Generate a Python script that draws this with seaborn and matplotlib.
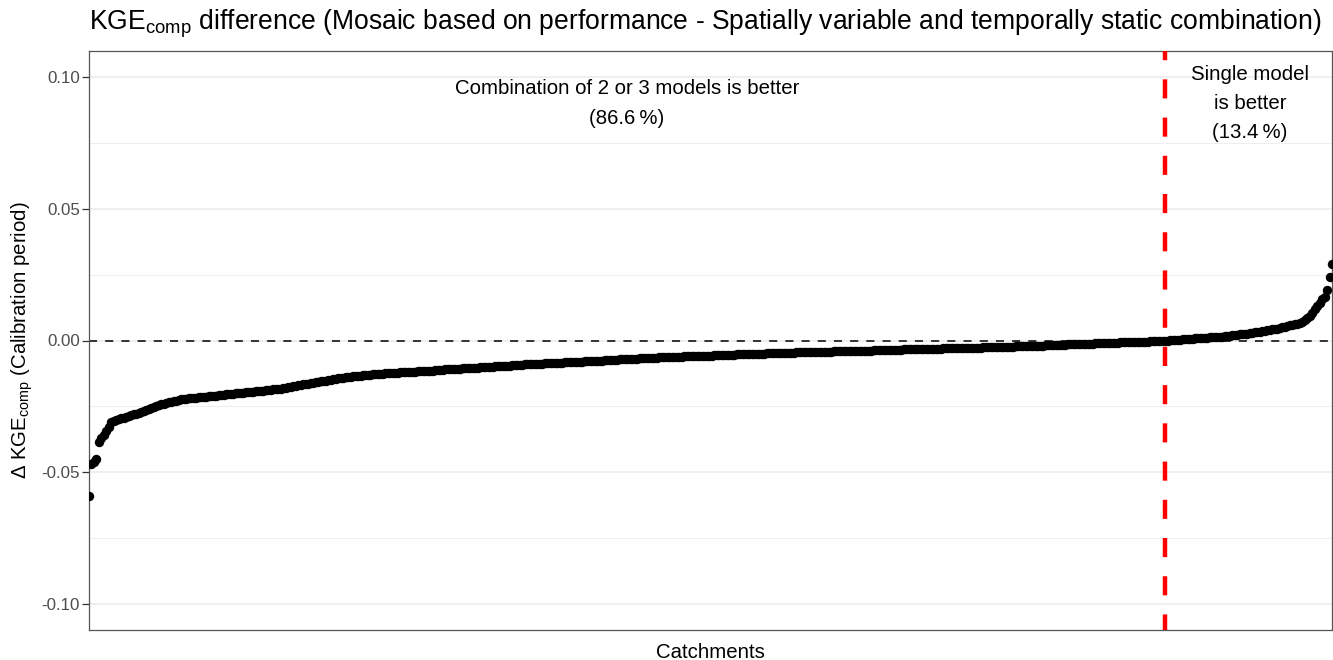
import numpy as np
import pandas as pd
import seaborn as sns
import matplotlib.pyplot as plt

# Delta KGE_comp per catchment, sorted, in units of 1e-4
delta_low = [
    -590, -470, -460, -450, -385, -370, -360, -345, -330, -310,
    -305, -302, -299, -296, -293, -290, -287, -284, -281, -278,
    -275, -271, -267, -263, -259, -255, -252, -249, -246, -243,
    -240, -237, -234, -232, -230, -228, -225, -223, -222, -221,
    -220, -219, -218, -217, -216, -215, -214, -213, -212, -211,
    -210, -209, -208, -207, -206, -205, -204, -203, -202, -201,
    -200, -199, -198, -197, -196, -195, -194, -193, -192, -191,
    -190, -189, -188, -187, -186, -185, -184, -183, -181, -179,
    -177, -175, -173, -172, -170, -169, -167, -166, -164, -162,
    -160, -158, -157, -155, -153, -152, -150, -149, -147, -146,
    -144, -143, -141, -140, -138, -137, -136, -135, -134, -133,
    -132, -131, -130, -130, -129, -128, -127, -127, -126, -125,
]
delta_mid = [
    -124, -124, -123, -123, -122, -121, -121, -120, -120, -119,
    -118, -118, -117, -117, -116, -115, -115, -114, -114, -113,
    -112, -112, -111, -110, -110, -109, -109, -108, -107, -107,
    -106, -106, -105, -104, -104, -103, -103, -102, -101, -101,
    -100, -100, -99, -98, -98, -97, -97, -96, -95, -95,
    -94, -94, -93, -92, -92, -91, -91, -90, -90, -89,
    -89, -88, -88, -87, -87, -86, -86, -85, -85, -84,
    -84, -83, -83, -82, -82, -81, -81, -80, -80, -79,
    -79, -78, -78, -77, -77, -76, -76, -75, -75, -74,
    -74, -73, -73, -72, -72, -71, -71, -70, -70, -69,
    -69, -68, -68, -67, -67, -66, -66, -65, -65, -64,
    -64, -63, -63, -62, -62, -62, -61, -61, -61, -60,
    -60, -60, -59, -59, -59, -58, -58, -58, -57, -57,
    -57, -56, -56, -56, -55, -55, -55, -54, -54, -54,
    -53, -53, -53, -52, -52, -52, -51, -51, -51, -50,
    -50, -50, -49, -49, -49, -48, -48, -48, -47, -47,
    -47, -46, -46, -46, -45, -45, -45, -44, -44, -44,
    -44, -43, -43, -43, -43, -42, -42, -42, -42, -41,
    -41, -41, -41, -40, -40, -40, -40, -39, -39, -39,
    -39, -38, -38, -38, -38, -37, -37, -37, -37, -36,
    -36, -36, -36, -35, -35, -35, -35, -34, -34, -34,
    -34, -33, -33, -33, -33, -32, -32, -32, -32, -31,
    -31, -31, -31, -30, -30, -30, -30, -29, -29, -29,
    -29, -28, -28, -28, -28, -27, -27, -27, -27, -26,
    -26, -26, -26, -25, -25, -25, -24, -24, -24, -23,
    -23, -23, -22, -22, -22, -21, -21, -21, -20, -20,
    -20, -19, -19, -19, -18, -18, -18, -17, -17, -17,
    -16, -16, -16, -15, -15, -15, -14, -14, -14, -13,
    -13, -13, -12, -12, -11, -11, -10, -10, -9, -9,
    -9, -8, -8, -8, -7, -7, -7, -6, -6, -6,
    -5, -5, -5, -4, -4, -4, -3, -3, -3, -2,
    -2, -1, -1,
]
delta_high = [
    0, 1, 1, 2, 3, 3, 4,
    5, 5, 6, 7, 8, 8, 9, 10, 10, 11,
    12, 12, 13, 14, 14, 15, 16, 17, 18, 19,
    20, 21, 23, 24, 25, 26, 28, 30, 31, 33,
    34, 36, 37, 39, 40, 42, 43, 45, 48, 50,
    52, 55, 57, 59, 61, 63, 67, 72, 78, 86,
    94, 106, 118, 130, 144, 156, 165, 190, 240, 290,
]

delta = np.array(delta_low + delta_mid + delta_high) / 10000
df = pd.DataFrame({"catchment": np.arange(len(delta)), "delta": delta})
n = len(df)
n_comb = int((df["delta"] < 0).sum())
pct_comb = 100 * n_comb / n
pct_single = 100 - pct_comb

sns.set_style("white")
plt.rcParams["font.family"] = ["Liberation Sans", "DejaVu Sans"]
plt.rcParams["mathtext.fontset"] = "custom"
plt.rcParams["mathtext.rm"] = "Liberation Sans"
plt.rcParams["mathtext.default"] = "regular"
plt.rcParams["axes.unicode_minus"] = False
plt.rcParams["text.color"] = "black"
plt.rcParams["axes.labelcolor"] = "black"

fig = plt.figure(figsize=(13.33, 6.6), dpi=100)
ax = fig.add_axes([89 / 1333, 30 / 660, 1243 / 1333, 579 / 660])

ax.axhline(0, color="black", lw=1.1, ls=(0, (5.3, 5.3)), zorder=2)
sns.scatterplot(data=df, x="catchment", y="delta", color="black", s=46,
                linewidth=0, ax=ax, zorder=3)
ax.axvline(n_comb - 1, color="#FF0000", lw=3.2, ls=(0.8, (4.3, 4.3)), zorder=4)

ax.set_xlim(0, n - 1)
ax.set_ylim(-0.11, 0.11)
ax.set_xticks([])
ax.set_yticks([-0.10, -0.05, 0.00, 0.05, 0.10])
ax.set_yticklabels(["-0.10", "-0.05", "0.00", "0.05", "0.10"])
ax.set_yticks([-0.075, -0.025, 0.025, 0.075], minor=True)
ax.grid(which="major", axis="y", color="#EBEBEB", lw=1.1)
ax.grid(which="minor", axis="y", color="#EBEBEB", lw=0.6)
ax.set_axisbelow(True)
ax.tick_params(axis="y", which="major", left=True, length=5, width=0.9,
               color="#333333", labelsize=12.2, labelcolor="#4D4D4D", pad=1.5)
ax.tick_params(axis="y", which="minor", left=False)
for sp in ax.spines.values():
    sp.set_color("#555555")
    sp.set_linewidth(0.9)

ax.set_xlabel("Catchments", fontsize=14.7, labelpad=9)
ax.set_ylabel(r"$\Delta$ KGE$_{comp}$ (Calibration period)", fontsize=14.7, labelpad=5)

ax.text(n_comb / 2 - 0.5, 0.09,
        "Combination of 2 or 3 models is better\n(%.1f\u2009%%)" % pct_comb,
        ha="center", va="center", fontsize=14.7, linespacing=1.7)
ax.text((n_comb + n) / 2 - 0.5, 0.09,
        "Single model\nis better\n(%.1f\u2009%%)" % pct_single,
        ha="center", va="center", fontsize=14.7, linespacing=1.65)

fig.text(89 / 1333, 1 - 29 / 660,
         r"KGE$_{comp}$ difference (Mosaic based on performance - Spatially variable and temporally static combination)",
         ha="left", va="baseline", fontsize=19.1)

fig.savefig("out.png", dpi=100)
